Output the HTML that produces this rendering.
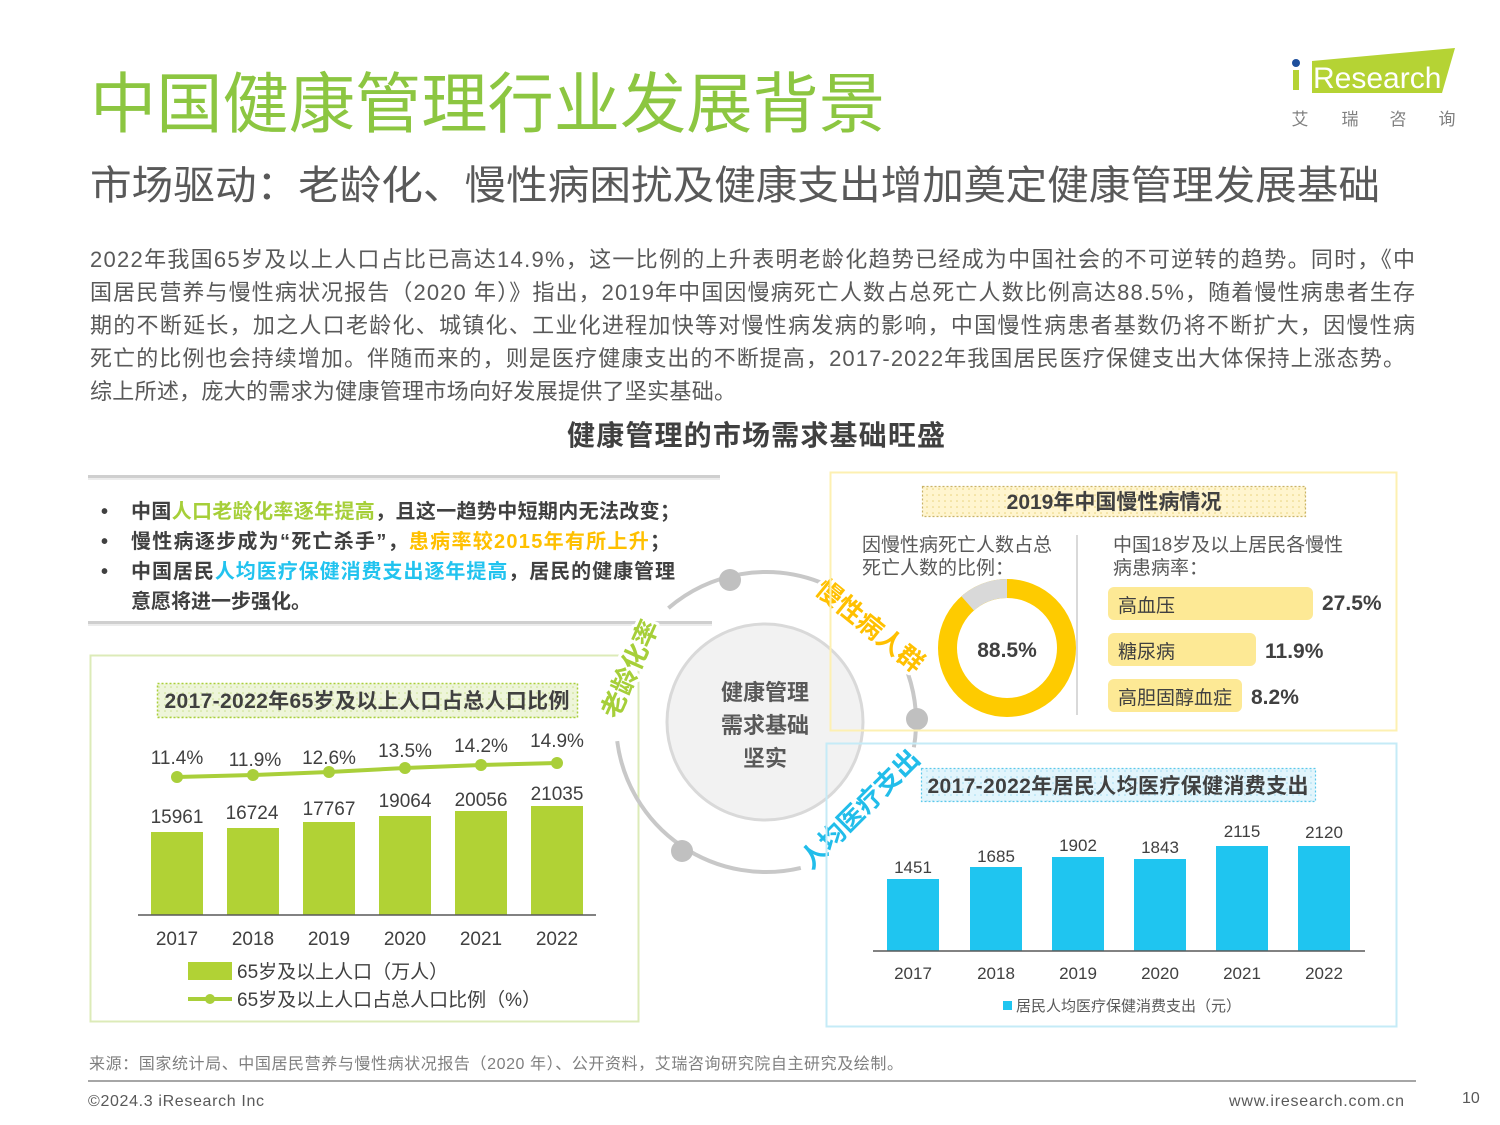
<!DOCTYPE html>
<html><head><meta charset="utf-8"><style>
html,body{margin:0;padding:0;background:#fff;}
svg{display:block;}
text{font-family:"Liberation Sans","Noto Sans CJK SC",sans-serif;}
.b{font-weight:bold;}
</style></head><body>
<svg width="1500" height="1125" viewBox="0 0 1500 1125" xmlns="http://www.w3.org/2000/svg">
<defs>
<pattern id="dg" width="6" height="6" patternUnits="userSpaceOnUse"><rect width="6" height="6" fill="#eef5da"/><circle cx="3" cy="3" r="0.8" fill="#c9e08a"/></pattern>
<pattern id="dy" width="6" height="6" patternUnits="userSpaceOnUse"><rect width="6" height="6" fill="#fff5cf"/><circle cx="3" cy="3" r="0.8" fill="#e8d27a"/></pattern>
<pattern id="db" width="6" height="6" patternUnits="userSpaceOnUse"><rect width="6" height="6" fill="#e2f5fc"/><circle cx="3" cy="3" r="0.8" fill="#9fdcf2"/></pattern>
</defs>

<!-- Logo -->
<polygon points="1312,61 1455,48 1442,93 1312,93" fill="#b5d334"/>
<rect x="1293" y="70" width="6" height="20" fill="#b5d334"/>
<circle cx="1296" cy="63" r="4" fill="#1d4e9c"/>
<text x="1313" y="88" font-size="30" fill="#fff">Research</text>
<text x="1300" y="125" font-size="17" fill="#7f7f7f" text-anchor="middle">艾</text>
<text x="1350" y="125" font-size="17" fill="#7f7f7f" text-anchor="middle">瑞</text>
<text x="1398" y="125" font-size="17" fill="#7f7f7f" text-anchor="middle">咨</text>
<text x="1447" y="125" font-size="17" fill="#7f7f7f" text-anchor="middle">询</text>

<!-- Titles -->
<text x="90" y="127" font-size="66" fill="#8cc641" textLength="795" lengthAdjust="spacingAndGlyphs">中国健康管理行业发展背景</text>
<text x="90" y="199" font-size="40" fill="#595959" textLength="1290" lengthAdjust="spacingAndGlyphs">市场驱动：老龄化、慢性病困扰及健康支出增加奠定健康管理发展基础</text>

<!-- Body -->
<g font-size="22" fill="#595959">
<text x="90" y="267" textLength="1325" lengthAdjust="spacing">2022年我国65岁及以上人口占比已高达14.9%，这一比例的上升表明老龄化趋势已经成为中国社会的不可逆转的趋势。同时，《中</text>
<text x="90" y="300" textLength="1325" lengthAdjust="spacing">国居民营养与慢性病状况报告（2020 年）》指出，2019年中国因慢病死亡人数占总死亡人数比例高达88.5%，随着慢性病患者生存</text>
<text x="90" y="333" textLength="1325" lengthAdjust="spacing">期的不断延长，加之人口老龄化、城镇化、工业化进程加快等对慢性病发病的影响，中国慢性病患者基数仍将不断扩大，因慢性病</text>
<text x="90" y="366" textLength="1315" lengthAdjust="spacing">死亡的比例也会持续增加。伴随而来的，则是医疗健康支出的不断提高，2017-2022年我国居民医疗保健支出大体保持上涨态势。</text>
<text x="90" y="399" textLength="646" lengthAdjust="spacing">综上所述，庞大的需求为健康管理市场向好发展提供了坚实基础。</text>
</g>

<text x="756" y="445" font-size="28" class="b" fill="#404040" text-anchor="middle" textLength="378" lengthAdjust="spacing">健康管理的市场需求基础旺盛</text>

<!-- Bullet box lines -->
<rect x="88" y="475" width="632" height="3" fill="#cfcfcf"/>
<rect x="88" y="478" width="632" height="2" fill="#ececec"/>
<rect x="88" y="621" width="624" height="3" fill="#cfcfcf"/>
<rect x="88" y="624" width="624" height="2" fill="#ececec"/>

<g font-size="20" class="b" fill="#404040">
<text x="101" y="518">•</text>
<text x="101" y="548">•</text>
<text x="101" y="578">•</text>
<text x="131" y="518" textLength="549" lengthAdjust="spacing">中国<tspan fill="#a6cf39">人口老龄化率逐年提高</tspan>，且这一趋势中短期内无法改变；</text>
<text x="131" y="548" textLength="539" lengthAdjust="spacing">慢性病逐步成为“死亡杀手”，<tspan fill="#ffc000">患病率较2015年有所上升</tspan>；</text>
<text x="131" y="578" textLength="544" lengthAdjust="spacing">中国居民<tspan fill="#22c3ef">人均医疗保健消费支出逐年提高</tspan>，居民的健康管理</text>
<text x="131" y="608">意愿将进一步强化。</text>
</g>

<!-- Left chart box -->
<rect x="90.5" y="655.5" width="548" height="366" fill="none" stroke="#dcebb8" stroke-width="2"/>
<rect x="157.5" y="683.5" width="420" height="34" fill="url(#dg)" stroke="#a9cf3a" stroke-width="1.5" stroke-dasharray="2,2"/>
<text x="367" y="708" font-size="21" class="b" fill="#404040" text-anchor="middle" textLength="405" lengthAdjust="spacing">2017-2022年65岁及以上人口占总人口比例</text>

<g fill="#b1d235">
<rect x="151" y="832" width="52" height="83"/>
<rect x="227" y="828" width="52" height="87"/>
<rect x="303" y="822" width="52" height="93"/>
<rect x="379" y="816" width="52" height="99"/>
<rect x="455" y="811" width="52" height="104"/>
<rect x="531" y="806" width="52" height="109"/>
</g>
<line x1="138" y1="915" x2="596" y2="915" stroke="#595959" stroke-width="1.5"/>
<polyline points="177,777 253,775 329,772 405,768 481,765 557,763" fill="none" stroke="#a9cf3a" stroke-width="4"/>
<g fill="#a9cf3a">
<circle cx="177" cy="777" r="6"/><circle cx="253" cy="775" r="6"/><circle cx="329" cy="772" r="6"/>
<circle cx="405" cy="768" r="6"/><circle cx="481" cy="765" r="6"/><circle cx="557" cy="763" r="6"/>
</g>
<g font-size="19" fill="#404040" text-anchor="middle">
<text x="177" y="764">11.4%</text><text x="255" y="766">11.9%</text><text x="329" y="764">12.6%</text>
<text x="405" y="757">13.5%</text><text x="481" y="752">14.2%</text><text x="557" y="747">14.9%</text>
<text x="177" y="823">15961</text><text x="252" y="819">16724</text><text x="329" y="815">17767</text>
<text x="405" y="807">19064</text><text x="481" y="806">20056</text><text x="557" y="800">21035</text>
<text x="177" y="945">2017</text><text x="253" y="945">2018</text><text x="329" y="945">2019</text>
<text x="405" y="945">2020</text><text x="481" y="945">2021</text><text x="557" y="945">2022</text>
</g>
<rect x="188" y="962" width="44" height="18" fill="#b1d235"/>
<text x="237" y="978" font-size="19" fill="#404040">65岁及以上人口（万人）</text>
<line x1="188" y1="999" x2="232" y2="999" stroke="#a9cf3a" stroke-width="4"/>
<circle cx="210" cy="999" r="5" fill="#a9cf3a"/>
<text x="237" y="1006" font-size="19" fill="#404040">65岁及以上人口占总人口比例（%）</text>

<!-- Center ring -->
<g fill="none" stroke="#c8c8c8" stroke-width="4">
<path d="M668.4,608.1 A150,150 0 0 1 820.2,582.2"/>
<path d="M908.0,673.7 A150,150 0 0 1 913.9,747.3"/>
<path d="M800.8,867.9 A150,150 0 0 1 617.2,741.1"/>
</g>
<g fill="#c0c0c0">
<circle cx="730" cy="580" r="11"/>
<circle cx="917" cy="719" r="11"/>
<circle cx="682" cy="851" r="11"/>
</g>
<circle cx="765" cy="722" r="98" fill="#f2f2f2" stroke="#d9d9d9" stroke-width="3"/>
<g font-size="22" class="b" fill="#595959" text-anchor="middle">
<text x="765" y="700">健康管理</text>
<text x="765" y="733">需求基础</text>
<text x="765" y="766">坚实</text>
</g>
<g font-size="26" class="b" text-anchor="middle" stroke="#fff" stroke-width="6" paint-order="stroke" stroke-linejoin="round">
<text transform="translate(630,669) rotate(-66)" y="9" fill="#a6cf39">老龄化率</text>
<text transform="translate(870,626) rotate(39)" y="9" fill="#ffc000">慢性病人群</text>
<text transform="translate(860,809) rotate(-45)" y="9" fill="#21bdea">人均医疗支出</text>
</g>

<!-- Right top box -->
<rect x="830.5" y="472.5" width="566" height="258" fill="none" stroke="#fdf0b2" stroke-width="2"/>
<rect x="922.5" y="486.5" width="383" height="30" fill="url(#dy)" stroke="#c9b366" stroke-width="1.2" stroke-dasharray="2,2"/>
<text x="1114" y="509" font-size="21" class="b" fill="#404040" text-anchor="middle">2019年中国慢性病情况</text>
<g font-size="19" fill="#595959">
<text x="862" y="551">因慢性病死亡人数占总</text>
<text x="862" y="574">死亡人数的比例：</text>
<text x="1113" y="551">中国18岁及以上居民各慢性</text>
<text x="1113" y="574">病患病率：</text>
</g>
<line x1="1077" y1="535" x2="1077" y2="715" stroke="#d9d9d9" stroke-width="2"/>
<circle cx="1007" cy="648" r="59.5" fill="none" stroke="#fecb00" stroke-width="19"/>
<path d="M1007,588.5 A59.5,59.5 0 0 0 967.66,603.36" fill="none" stroke="#d9d9d9" stroke-width="19"/>
<text x="1007" y="657" font-size="21" class="b" fill="#404040" text-anchor="middle">88.5%</text>
<g fill="#fde995">
<rect x="1108" y="587" width="205" height="33" rx="6"/>
<rect x="1108" y="633" width="148" height="33" rx="6"/>
<rect x="1108" y="679" width="134" height="33" rx="6"/>
</g>
<g font-size="19" fill="#404040">
<text x="1118" y="612">高血压</text>
<text x="1118" y="658">糖尿病</text>
<text x="1118" y="704">高胆固醇血症</text>
</g>
<g font-size="21" class="b" fill="#404040">
<text x="1322" y="610">27.5%</text>
<text x="1265" y="658">11.9%</text>
<text x="1251" y="704">8.2%</text>
</g>

<!-- Right bottom box -->
<rect x="826.5" y="743.5" width="570" height="283" fill="none" stroke="#c5ebf7" stroke-width="2"/>
<rect x="921.5" y="768.5" width="394" height="33" fill="url(#db)" stroke="#5bc8ea" stroke-width="1.2" stroke-dasharray="2,2"/>
<text x="1118" y="793" font-size="21" class="b" fill="#404040" text-anchor="middle" textLength="381" lengthAdjust="spacing">2017-2022年居民人均医疗保健消费支出</text>
<g fill="#1fc5f0">
<rect x="887" y="879" width="52" height="72"/>
<rect x="970" y="867" width="52" height="84"/>
<rect x="1052" y="857" width="52" height="94"/>
<rect x="1134" y="859" width="52" height="92"/>
<rect x="1216" y="846" width="52" height="105"/>
<rect x="1298" y="846" width="52" height="105"/>
</g>
<line x1="873" y1="951" x2="1365" y2="951" stroke="#595959" stroke-width="1.5"/>
<g font-size="17" fill="#404040" text-anchor="middle">
<text x="913" y="873">1451</text><text x="996" y="862">1685</text><text x="1078" y="851">1902</text>
<text x="1160" y="853">1843</text><text x="1242" y="837">2115</text><text x="1324" y="838">2120</text>
<text x="913" y="979">2017</text><text x="996" y="979">2018</text><text x="1078" y="979">2019</text>
<text x="1160" y="979">2020</text><text x="1242" y="979">2021</text><text x="1324" y="979">2022</text>
</g>
<rect x="1003" y="1001" width="9" height="9" fill="#1fc5f0"/>
<text x="1016" y="1011" font-size="15" fill="#595959">居民人均医疗保健消费支出（元）</text>

<!-- Footer -->
<text x="89" y="1069" font-size="16" fill="#7f7f7f" textLength="814" lengthAdjust="spacing">来源：国家统计局、中国居民营养与慢性病状况报告（2020 年）、公开资料，艾瑞咨询研究院自主研究及绘制。</text>
<line x1="88" y1="1081" x2="1416" y2="1081" stroke="#a6a6a6" stroke-width="2"/>
<text x="88" y="1106" font-size="16" fill="#595959" textLength="176" lengthAdjust="spacing">©2024.3 iResearch Inc</text>
<text x="1229" y="1106" font-size="16" fill="#595959" textLength="175" lengthAdjust="spacing">www.iresearch.com.cn</text>
<text x="1462" y="1103" font-size="16" fill="#595959">10</text>
</svg>
</body></html>
